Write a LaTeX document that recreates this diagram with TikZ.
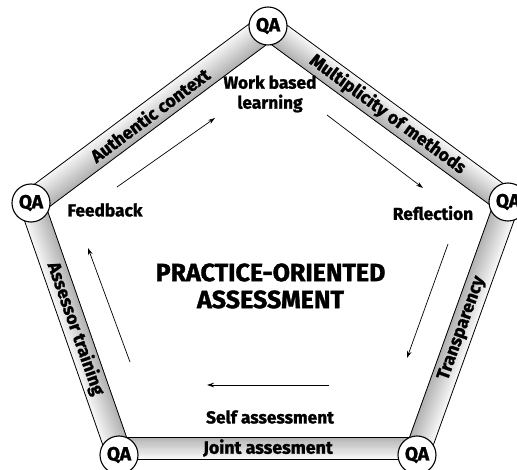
\documentclass[tikz,border=0pt]{standalone}
\usepackage{fontspec}
\setmainfont{Fira Sans}[BoldFeatures={FakeBold=1.4}]
\usetikzlibrary{calc,arrows.meta}

% Shaded band between two corner points: #1 from, #2 to,
% #3 outer offset, #4 inner offset (pt, outward positive), #5 label
\newcommand\qabar[5]{%
  \foreach \k in {0,...,24}{%
    \pgfmathsetmacro\oa{#3-(#3-(#4))*\k/25}%
    \pgfmathsetmacro\sh{3+27*\k/24}%
    \fill[black!\sh] ($(#1)!\oa pt!90:(#2)$) -- ($(#2)!\oa pt!-90:(#1)$)
      -- ($(#2)!#4pt!-90:(#1)$) -- ($(#1)!#4pt!90:(#2)$) -- cycle;
  }%
  \draw[barline] ($(#1)!#3pt!90:(#2)$) -- ($(#2)!#3pt!-90:(#1)$);
  \draw[barline] ($(#1)!#4pt!90:(#2)$) -- ($(#2)!#4pt!-90:(#1)$);
  \pgfmathsetmacro\om{((#3)+(#4))/2}%
  \path ($(#1)!\om pt!90:(#2)$) -- node[barlbl]{#5} ($(#2)!\om pt!-90:(#1)$);
}

\begin{document}
\begin{tikzpicture}[x=1pt,y=-1pt,
  qa/.style={circle, draw, line width=1.1pt, fill=white, minimum size=38pt,
    inner sep=0pt, font=\fontsize{19}{19}\selectfont\bfseries},
  lbl/.style={font=\fontsize{17.3}{20}\selectfont\bfseries, align=center, inner sep=0pt},
  barlbl/.style={font=\fontsize{17.8}{18}\selectfont\bfseries, inner sep=0pt, sloped},
  barline/.style={line width=0.8pt},
  flow/.style={line width=0.7pt, -{Stealth[length=7pt,width=4.5pt]}},
  heading/.style={font=\fontsize{25}{27}\selectfont\bfseries, align=center, inner sep=0pt}]
\useasboundingbox (0,0) rectangle (517,470);

% corner positions
\coordinate (pT)  at (268,26);
\coordinate (pR)  at (508,202);
\coordinate (pBR) at (417,455);
\coordinate (pBL) at (119,455);
\coordinate (pL)  at (31,203);

% shaded bands along the pentagon
\qabar{pT}{pR}{12}{-13}{Multiplicity of methods}
\qabar{pR}{pBR}{12}{-13}{Transparency}
\qabar{pBR}{pBL}{4}{-18}{Joint assesment}
\qabar{pBL}{pL}{12}{-13}{Assessor training}
\qabar{pL}{pT}{13}{-14}{Authentic context}

% quality-assurance checkpoints
\node[qa] (qT)  at (pT)  {QA};
\node[qa] (qR)  at (pR)  {QA};
\node[qa] (qBR) at (pBR) {QA};
\node[qa] (qBL) at (pBL) {QA};
\node[qa] (qL)  at (pL)  {QA};

% cycle stages
\node[lbl] (work) at (270,94) {Work based\\learning};
\node[lbl] (refl) at (433,213) {Reflection};
\node[lbl] (self) at (270,417) {Self assessment};
\node[lbl] (feed) at (105,210) {Feedback};
\node[heading] (title) at (270.5,286) {PRACTICE-ORIENTED\\ASSESSMENT};

% arrow end points
\coordinate (a1s) at (117,187);
\coordinate (a1e) at (215,118);
\coordinate (a2s) at (327,115);
\coordinate (a2e) at (423,188);
\coordinate (a3s) at (448,244);
\coordinate (a3e) at (407,358);
\coordinate (a4s) at (329,385);
\coordinate (a4e) at (207,385);
\coordinate (a5s) at (130,362);
\coordinate (a5e) at (88,248);

\draw[flow] (a1s) -- (a1e);
\draw[flow] (a2s) -- (a2e);
\draw[flow] (a3s) -- (a3e);
\draw[flow] (a4s) -- (a4e);
\draw[flow] (a5s) -- (a5e);
\end{tikzpicture}
\end{document}
